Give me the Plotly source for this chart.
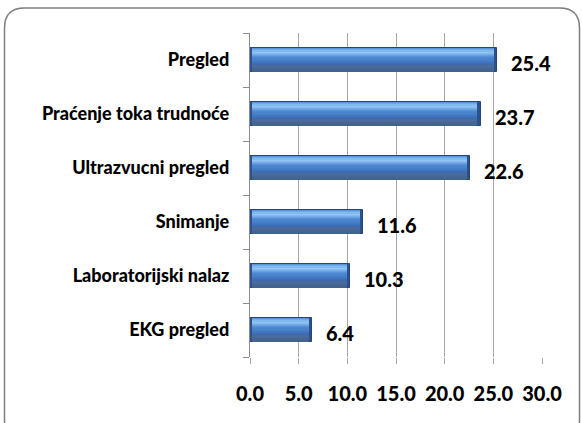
import plotly.graph_objects as go

# Services and their shares (%)
categories = ["Pregled", "Praćenje toka trudnoće", "Ultrazvucni pregled",
              "Snimanje", "Laboratorijski nalaz", "EKG pregled"]
values = [25.4, 23.7, 22.6, 11.6, 10.3, 6.4]
x_ticks = [0, 5, 10, 15, 20, 25, 30]
x_tick_labels = ["0.0", "5.0", "10.0", "15.0", "20.0", "25.0", "30.0"]

W, H = 582, 423
ML, MR, MT, MB = 250, 40, 33, 66
PW, PH = W - ML - MR, H - MT - MB

FONT = "Lato"
WEIGHT = 900
BAR_W = 0.455  # bar thickness in category units

# bottom-to-top order on the y axis so the first category sits on top
cats_plot = categories[::-1]
vals_plot = values[::-1]

fig = go.Figure()

# base bar (dark rim that shows at the bevelled ends)
fig.add_trace(go.Bar(
    y=cats_plot, x=vals_plot, orientation="h", width=BAR_W,
    marker=dict(color="#2b528a", line=dict(color="#24477a", width=1)),
    hoverinfo="skip", showlegend=False,
))

# cylinder shading: thin stripes stacked from the top to the bottom of each bar
stops = [
    (0.00, (0x4f, 0x88, 0xd0)),
    (0.06, (0x6a, 0xa5, 0xe6)),
    (0.17, (0x92, 0xc7, 0xf6)),
    (0.27, (0x78, 0xae, 0xea)),
    (0.40, (0x4f, 0x8a, 0xd2)),
    (0.60, (0x3f, 0x77, 0xc0)),
    (0.72, (0x3a, 0x6a, 0xae)),
    (0.76, (0x4a, 0x6c, 0x9c)),
    (1.00, (0x42, 0x62, 0x8e)),
]


def shade(t):
    for (t0, c0), (t1, c1) in zip(stops[:-1], stops[1:]):
        if t0 <= t <= t1:
            f = (t - t0) / (t1 - t0) if t1 > t0 else 0
            return "rgb(%d,%d,%d)" % tuple(round(a + (b - a) * f) for a, b in zip(c0, c1))
    return "rgb(%d,%d,%d)" % stops[-1][1]


n_stripes = 20
inner = BAR_W * 0.94
stripe_h = inner / n_stripes
inset_l, inset_r = 0.2, 0.35  # end bevels in data units
for i in range(n_stripes):
    t = (i + 0.5) / n_stripes
    top = inner / 2 - i * stripe_h
    fig.add_trace(go.Bar(
        y=cats_plot, x=[v - inset_l - inset_r for v in vals_plot],
        base=[inset_l] * len(vals_plot), orientation="h",
        width=stripe_h * 1.05, offset=top - stripe_h,
        marker=dict(color=shade(t), line=dict(width=0)),
        hoverinfo="skip", showlegend=False,
    ))

# value labels
for c, v in zip(cats_plot, vals_plot):
    fig.add_annotation(
        x=v, y=c, xref="x", yref="y", text=f"{v:.1f}", showarrow=False,
        xanchor="left", xshift=12, yshift=-3,
        font=dict(family=FONT, size=20, color="#000000", weight=WEIGHT),
    )

# rounded frame around the chart
def px(xp):
    return (xp - ML) / PW


def py(yp):
    return (H - MB - yp) / PH


x0, x1, y0, y1, r = 4.5, 579.5, 8.0, 440.0, 20.0
path = (
    f"M {px(x0 + r)} {py(y0)} L {px(x1 - r)} {py(y0)} "
    f"Q {px(x1)} {py(y0)} {px(x1)} {py(y0 + r)} "
    f"L {px(x1)} {py(y1 - r)} Q {px(x1)} {py(y1)} {px(x1 - r)} {py(y1)} "
    f"L {px(x0 + r)} {py(y1)} Q {px(x0)} {py(y1)} {px(x0)} {py(y1 - r)} "
    f"L {px(x0)} {py(y0 + r)} Q {px(x0)} {py(y0)} {px(x0 + r)} {py(y0)} Z"
)
fig.add_shape(type="path", path=path, xref="paper", yref="paper",
              line=dict(color="#7f7f7f", width=1.5), layer="above")

fig.update_layout(
    width=W, height=H,
    margin=dict(l=ML, r=MR, t=MT, b=MB, pad=0),
    paper_bgcolor="white", plot_bgcolor="white",
    barmode="overlay", bargap=0.0,
    showlegend=False,
    xaxis=dict(
        range=[0, 30], tickmode="array", tickvals=x_ticks, ticktext=x_tick_labels,
        showgrid=True, gridcolor="#a6a6a6", gridwidth=1.3,
        showline=False, zeroline=False,
        ticks="outside", ticklen=6, tickcolor="#a6a6a6", tickwidth=1.3,
        ticklabelstandoff=13,
        tickfont=dict(family=FONT, size=20, color="#000000", weight=WEIGHT),
        fixedrange=True,
    ),
    yaxis=dict(
        type="category", categoryorder="array", categoryarray=cats_plot,
        showline=True, linecolor="#8c8c8c", linewidth=1.3,
        showgrid=False, zeroline=False,
        ticks="outside", tickson="boundaries", ticklen=6,
        tickcolor="#8c8c8c", tickwidth=1.3,
        ticklabelstandoff=16,
        tickfont=dict(family=FONT, size=18, color="#000000", weight=WEIGHT),
        fixedrange=True,
    ),
)

fig.write_html("out.html")
